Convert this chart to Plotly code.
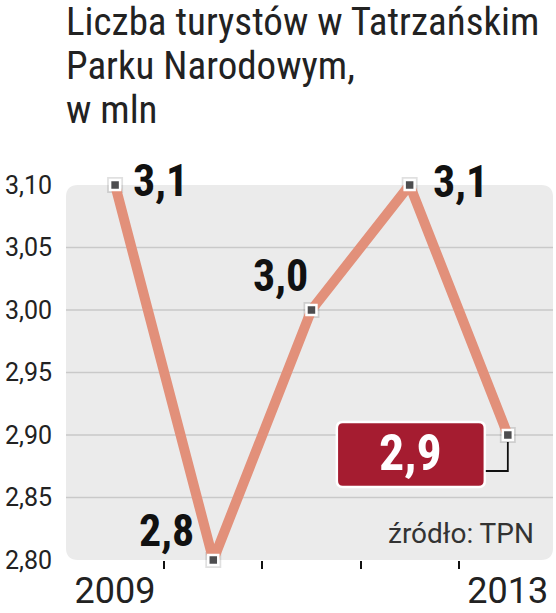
import plotly.graph_objects as go

years = [2009, 2010, 2011, 2012, 2013]
tourists = [3.1, 2.8, 3.0, 3.1, 2.9]
ytick_vals = [2.80, 2.85, 2.90, 2.95, 3.00, 3.05, 3.10]
ytick_text = ["2,80", "2,85", "2,90", "2,95", "3,00", "3,05", "3,10"]
xtick_text = ["2009", "", "", "", "2013"]
title_lines = ["Liczba turystów w Tatrzańskim", "Parku Narodowym,", "w mln"]
source_text = "źródło: TPN"

LINE_COLOR = "#e2907a"
HILITE = "#a51c30"
BASE_FONT = "Roboto, 'Liberation Sans', sans-serif"
COND_FONT = "'Liberation Sans Narrow', 'Roboto Condensed', Roboto, sans-serif"

W, H = 556, 613
ML, MR, MT, MB = 66, 3, 185, 53
PW, PH = W - ML - MR, H - MT - MB

def py(ypix):  # pixel row -> paper y
    return (H - MB - ypix) / PH

def px(xpix):
    return (xpix - ML) / PW

fig = go.Figure()

# shadow under markers
fig.add_trace(go.Scatter(
    x=years, y=tourists, mode="markers",
    marker=dict(symbol="square", size=16, color="rgba(0,0,0,0.12)"),
    cliponaxis=False, hoverinfo="skip", showlegend=False))
fig.add_trace(go.Scatter(
    x=years, y=tourists, mode="lines+markers",
    line=dict(color=LINE_COLOR, width=10),
    marker=dict(symbol="square", size=10, color="#4d4d4f",
                line=dict(color="white", width=2.5)),
    cliponaxis=False, showlegend=False))

shapes = []
# rounded plot background
r = 12
rx, ry = r / PW, r / PH
path = (f"M {rx},0 L {1-rx},0 Q 1,0 1,{ry} L 1,{1-ry} Q 1,1 {1-rx},1 "
        f"L {rx},1 Q 0,1 0,{1-ry} L 0,{ry} Q 0,0 {rx},0 Z")
shapes.append(dict(type="path", xref="paper", yref="paper", path=path,
                   fillcolor="#ebebeb", line=dict(width=0), layer="below"))
# gridlines (inner only)
for v in ytick_vals[1:-1]:
    shapes.append(dict(type="line", xref="paper", yref="y", x0=0, x1=1, y0=v, y1=v,
                       line=dict(color="#c9c9c9", width=1.5), layer="below"))

# highlighted last value box + connector
lx, ly = years[-1], tourists[-1]
bx0, bx1, by0, by1, br = -171, -23, -52, 13, 6
box = (f"M {bx0+br},{by0} L {bx1-br},{by0} Q {bx1},{by0} {bx1},{by0+br} "
       f"L {bx1},{by1-br} Q {bx1},{by1} {bx1-br},{by1} L {bx0+br},{by1} "
       f"Q {bx0},{by1} {bx0},{by1-br} L {bx0},{by0+br} Q {bx0},{by0} {bx0+br},{by0} Z")
shapes.append(dict(type="path", xref="x", yref="y", xsizemode="pixel", ysizemode="pixel",
                   xanchor=lx, yanchor=ly, path=box, fillcolor=HILITE,
                   line=dict(color="white", width=2.5), layer="above"))
shapes.append(dict(type="path", xref="x", yref="y", xsizemode="pixel", ysizemode="pixel",
                   xanchor=lx, yanchor=ly, path=f"M {bx1+1},-36 L 0,-36 L 0,-7",
                   line=dict(color="#111", width=1.8), layer="above"))

def fmt(v):
    return f"{v:.1f}".replace(".", ",")

annotations = []
label_pos = [  # (xanchor, xshift, yshift)
    ("left", 16, 4),
    ("right", -17, 29),
    ("right", -1, 34),
    ("left", 21, 3),
]
for (xa, xs, ys), xv, yv in zip(label_pos, years[:-1], tourists[:-1]):
    annotations.append(dict(x=xv, y=yv, xref="x", yref="y", text=f"<b>{fmt(yv)}</b>",
                            showarrow=False, xanchor=xa, yanchor="middle",
                            xshift=xs, yshift=ys,
                            font=dict(family=COND_FONT, size=44, color="#111")))
annotations.append(dict(x=lx, y=ly, xref="x", yref="y", text=f"<b>{fmt(ly)}</b>",
                        showarrow=False, xanchor="center", yanchor="middle",
                        xshift=-97, yshift=-18,
                        font=dict(family=COND_FONT, size=50, color="white")))
annotations.append(dict(x=px(536), y=py(533), xref="paper", yref="paper",
                        text=source_text, showarrow=False, xanchor="right", yanchor="middle",
                        font=dict(family=BASE_FONT, size=28, color="#333")))
for i, line in enumerate(title_lines):
    annotations.append(dict(x=px(64), y=py(22 + 44 * i), xref="paper", yref="paper",
                            text=line, showarrow=False, xanchor="left", yanchor="middle",
                            font=dict(family=COND_FONT, size=39, color="#222")))

fig.update_layout(
    width=W, height=H,
    margin=dict(l=ML, r=MR, t=MT, b=MB, autoexpand=False),
    paper_bgcolor="white", plot_bgcolor="rgba(0,0,0,0)",
    shapes=shapes, annotations=annotations,
    showlegend=False,
    xaxis=dict(range=[2008.5, 2013.46], tickvals=years, ticktext=xtick_text,
               ticks="", showgrid=False, zeroline=False, showline=False,
               ticklabelstandoff=6,
               tickfont=dict(family=BASE_FONT, size=36, color="#222"),
               minor=dict(tickvals=[2009.5, 2010.5, 2011.5, 2012.5], ticks="outside",
                          ticklen=8, tickwidth=1.5, tickcolor="#111", showgrid=False)),
    yaxis=dict(range=[2.80, 3.10], tickvals=ytick_vals, ticktext=ytick_text,
               ticks="outside", ticklen=8, tickcolor="rgba(0,0,0,0)",
               showgrid=False, zeroline=False, showline=False,
               tickfont=dict(family=BASE_FONT, size=25, color="#222")),
)

fig.write_html("out.html", config={"displayModeBar": False},
               post_script="document.body.style.margin='0';document.body.style.overflow='hidden';")
